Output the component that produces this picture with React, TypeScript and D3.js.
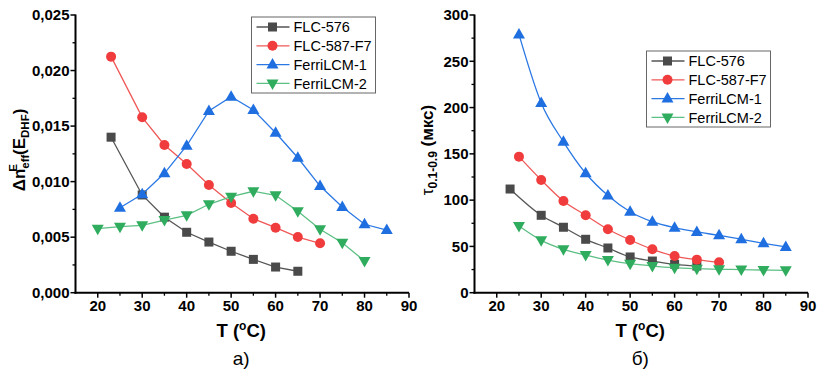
import React from "react";
import * as d3 from "d3";

const seriesNames = ["FLC-576", "FLC-587-F7", "FerriLCM-1", "FerriLCM-2"];
const seriesColors = ["#4a4a4a", "#f03c3c", "#1f6fe0", "#2fac5e"];
const lineColors = ["#555555", "#f05858", "#2a78e4", "#5cbf84"];
const markerShapes = ["square", "circle", "triUp", "triDown"];

// Panel a) Δn_eff
const aT576 = [23, 30, 35, 40, 45, 50, 55, 60, 65];
const aV576 = [0.014, 0.0088, 0.0068, 0.00544, 0.00456, 0.00373, 0.003, 0.00231, 0.00193];
const aT587 = [23, 30, 35, 40, 45, 50, 55, 60, 65, 70];
const aV587 = [0.02125, 0.01579, 0.0133, 0.01159, 0.0097, 0.00808, 0.00666, 0.00585, 0.00501, 0.00445];
const aT1 = [25, 30, 35, 40, 45, 50, 55, 60, 65, 70, 75, 80, 85];
const aV1 = [0.00765, 0.00886, 0.01075, 0.01323, 0.01636, 0.01765, 0.01645, 0.0144, 0.01215, 0.0096, 0.00772, 0.00616, 0.00564];
const aT2 = [20, 25, 30, 35, 40, 45, 50, 55, 60, 65, 70, 75, 80];
const aV2 = [0.00576, 0.00594, 0.00607, 0.00654, 0.00697, 0.00796, 0.00864, 0.00913, 0.00877, 0.00733, 0.00571, 0.0045, 0.00285];

// Panel б) τ
const bT576 = [23, 30, 35, 40, 45, 50, 55, 60, 65];
const bV576 = [112, 83.6, 70.7, 57.7, 48.3, 38.6, 34.2, 30.7, 28.8];
const bT587 = [25, 30, 35, 40, 45, 50, 55, 60, 65, 70];
const bV587 = [147, 121.8, 99.1, 83.6, 68.5, 56.9, 46.9, 39.6, 35.7, 32.8];
const bT1 = [25, 30, 35, 40, 45, 50, 55, 60, 65, 70, 75, 80, 85];
const bV1 = [279, 205, 163, 129, 105, 87.5, 76.7, 70.2, 65.6, 62, 57.7, 53.4, 49.4];
const bT2 = [25, 30, 35, 40, 45, 50, 55, 60, 65, 70, 75, 80, 85];
const bV2 = [72, 56.6, 46.9, 40.7, 35.3, 31.3, 28.8, 27, 26, 25.3, 25, 24.5, 24.2];

const xTicks = [20, 30, 40, 50, 60, 70, 80, 90];
const xMinor = [25, 35, 45, 55, 65, 75, 85];
const aYTicks = [0, 0.005, 0.01, 0.015, 0.02, 0.025];
const aYMinor = [0.0025, 0.0075, 0.0125, 0.0175, 0.0225];
const bYTicks = [0, 50, 100, 150, 200, 250, 300];
const bYMinor = [25, 75, 125, 175, 225, 275];

const FONT = "'Liberation Sans', Arial, sans-serif";

function Marker({ shape, x, y, color }: { shape: string; x: number; y: number; color: string }) {
  if (shape === "square") return <rect x={x - 4.5} y={y - 4.5} width={9} height={9} fill={color} />;
  if (shape === "circle") return <circle cx={x} cy={y} r={5} fill={color} />;
  if (shape === "triUp")
    return <path d={`M${x},${y - 6.5} L${x + 6},${y + 4} L${x - 6},${y + 4} Z`} fill={color} />;
  return <path d={`M${x},${y + 6.5} L${x + 6},${y - 4} L${x - 6},${y - 4} Z`} fill={color} />;
}

function Panel({
  xs, ys, yTicks, yMinor, yDomain, fmt, curve, legendX, legendY, label, yTitle, titleX,
}: any) {
  const x0 = xs[0], x1 = xs[1];
  const xScale = d3.scaleLinear().domain([15, 90]).range([x0, x1]);
  const yScale = d3.scaleLinear().domain(yDomain).range([292.7, 15]);
  const yAxisX = x0;
  const xAxisY = 292.7;
  const line = d3.line<[number, number]>().x((d) => xScale(d[0])).y((d) => yScale(d[1])).curve(curve);
  const cx = (x0 + x1) / 2;
  return (
    <g>
      {ys.map((s: any, i: number) => {
        const pts: [number, number][] = s.t.map((t: number, k: number) => [t, s.v[k]]);
        return (
          <g key={i}>
            <path d={line(pts) || ""} fill="none" stroke={lineColors[i]} strokeWidth={1.3} />
            {pts.map((p, k) => (
              <Marker key={k} shape={markerShapes[i]} x={xScale(p[0])} y={yScale(p[1])} color={seriesColors[i]} />
            ))}
          </g>
        );
      })}
      {/* axes */}
      <line x1={yAxisX} x2={yAxisX} y1={yScale(yDomain[1]) - 0.5} y2={xAxisY + 1} stroke="#000" strokeWidth={2} />
      <line x1={yAxisX - 1} x2={x1} y1={xAxisY} y2={xAxisY} stroke="#000" strokeWidth={2} />
      {yTicks.map((t: number) => (
        <g key={"y" + t}>
          <line x1={yAxisX - 5} x2={yAxisX} y1={yScale(t)} y2={yScale(t)} stroke="#000" strokeWidth={1.5} />
          <text x={yAxisX - 6} y={yScale(t)} dy="0.35em" textAnchor="end" fontFamily={FONT} fontWeight="bold" fontSize={15}>
            {fmt(t)}
          </text>
        </g>
      ))}
      {yMinor.map((t: number) => (
        <line key={"ym" + t} x1={yAxisX - 3} x2={yAxisX} y1={yScale(t)} y2={yScale(t)} stroke="#000" strokeWidth={1.3} />
      ))}
      {xTicks.map((t) => (
        <g key={"x" + t}>
          <line x1={xScale(t)} x2={xScale(t)} y1={xAxisY} y2={xAxisY + 5} stroke="#000" strokeWidth={1.5} />
          <text x={xScale(t)} y={xAxisY + 18} textAnchor="middle" fontFamily={FONT} fontWeight="bold" fontSize={15}>
            {t}
          </text>
        </g>
      ))}
      {xMinor.map((t) => (
        <line key={"xm" + t} x1={xScale(t)} x2={xScale(t)} y1={xAxisY} y2={xAxisY + 3} stroke="#000" strokeWidth={1.3} />
      ))}
      <text x={cx - 1} y={337} textAnchor="middle" fontFamily={FONT} fontWeight="bold" fontSize={18.5}>
        T (<tspan fontSize={12} dy={-7}>o</tspan><tspan dy={7}>C)</tspan>
      </text>
      <text x={cx - 1} y={365} textAnchor="middle" fontFamily={FONT} fontSize={19}>
        {label}
      </text>
      <text transform={`translate(${titleX},150) rotate(-90)`} textAnchor="middle" fontFamily={FONT} fontWeight="bold" fontSize={17}>
        {yTitle}
      </text>
      {/* legend */}
      <rect x={legendX} y={legendY} width={124} height={76} fill="#fff" stroke="#666" strokeWidth={1} />
      {seriesNames.map((n, i) => {
        const yy = legendY + 10 + i * 18.8;
        return (
          <g key={n}>
            <line x1={legendX + 5} x2={legendX + 38} y1={yy} y2={yy} stroke={lineColors[i]} strokeWidth={1.3} />
            <Marker shape={markerShapes[i]} x={legendX + 21} y={yy} color={seriesColors[i]} />
            <text x={legendX + 42} y={yy} dy="0.36em" fontFamily={FONT} fontSize={14.5}>
              {n}
            </text>
          </g>
        );
      })}
    </g>
  );
}

export default function App() {
  const aSeries = [
    { t: aT576, v: aV576 },
    { t: aT587, v: aV587 },
    { t: aT1, v: aV1 },
    { t: aT2, v: aV2 },
  ];
  const bSeries = [
    { t: bT576, v: bV576 },
    { t: bT587, v: bV587 },
    { t: bT1, v: bV1 },
    { t: bT2, v: bV2 },
  ];
  const fmtA = (v: number) => d3.format(".3f")(v).replace(".", ",");
  const fmtB = (v: number) => String(v);
  return (
    <svg width={820} height={372} style={{ position: "absolute", left: 0, top: 0, background: "#fff" }}>
      <rect width={820} height={372} fill="#fff" />
      <Panel
        xs={[75.5, 409]}
        ys={aSeries}
        yTicks={aYTicks}
        yMinor={aYMinor}
        yDomain={[0, 0.025]}
        fmt={fmtA}
        curve={d3.curveLinear}
        legendX={251.5}
        legendY={17}
        label="а)"
        titleX={25}
        yTitle={
          <>
            Δn<tspan dy={4} fontSize={11.5}>eff</tspan>
            <tspan dx={-17} dy={-12} fontSize={11.5}>E</tspan>
            <tspan dx={9} dy={8}>(E</tspan>
            <tspan dy={4} fontSize={11.5}>DHF</tspan>
            <tspan dy={-4}>)</tspan>
          </>
        }
      />
      <Panel
        xs={[474.5, 808]}
        ys={bSeries}
        yTicks={bYTicks}
        yMinor={bYMinor}
        yDomain={[0, 300]}
        fmt={fmtB}
        curve={d3.curveMonotoneX}
        legendX={646.5}
        legendY={51}
        label="б)"
        titleX={433}
        yTitle={
          <>
            <tspan fontWeight="normal">τ</tspan>
            <tspan dy={4} fontSize={12}>0.1-0.9</tspan>
            <tspan dy={-4}> (мкс)</tspan>
          </>
        }
      />
    </svg>
  );
}
